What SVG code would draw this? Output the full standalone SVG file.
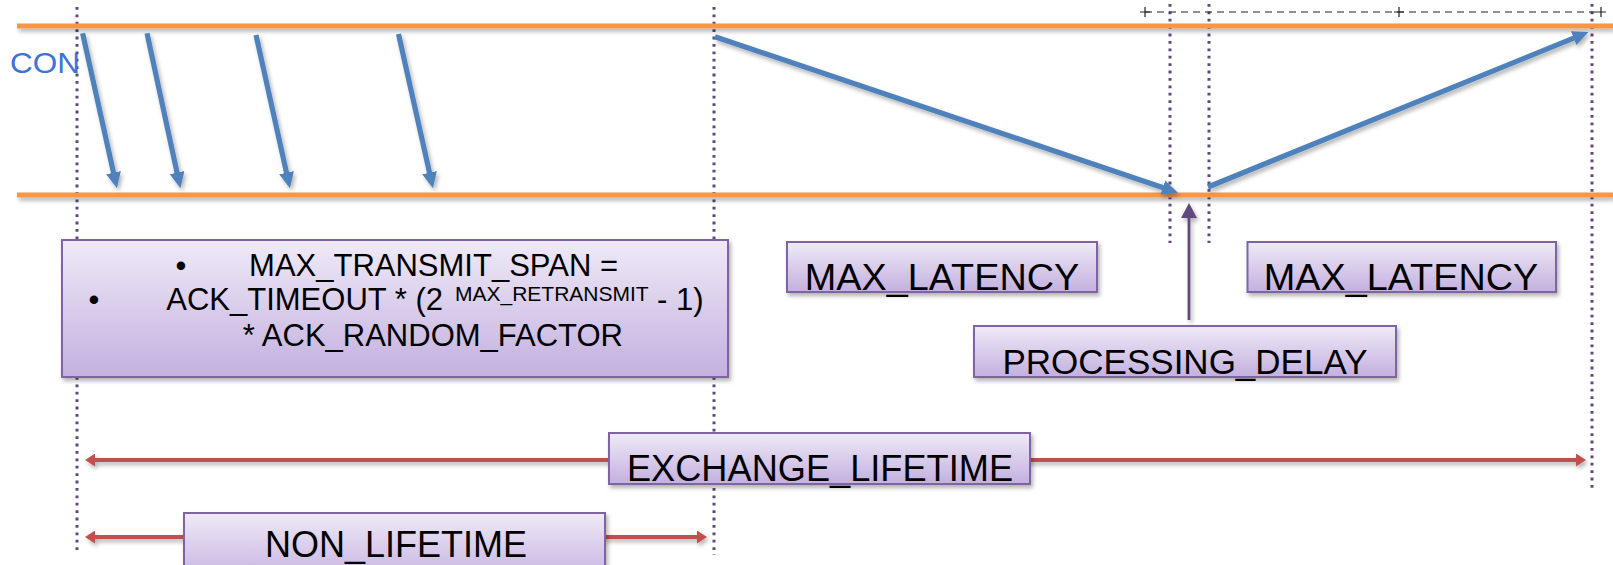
<svg xmlns="http://www.w3.org/2000/svg" width="1613" height="565" viewBox="0 0 1613 565">
<style>
.timeline{stroke:#F79646;stroke-width:5;fill:none}
.guide{stroke:#5F497A;stroke-width:3;stroke-dasharray:2.8 4.6;fill:none}
.msg{stroke:#4F81BD;stroke-width:5.2;fill:none;marker-end:url(#blueHead)}
.span{stroke:#C0504D;stroke-width:4;fill:none;marker-start:url(#redHead);marker-end:url(#redHead)}
.box{fill:url(#boxFill);stroke:#8064A2;stroke-width:2}
.lbl{font-family:"Liberation Sans",Arial,sans-serif;fill:#000}
.scale{stroke:#222;stroke-width:1.2;fill:none}
</style>
<defs>
<linearGradient id="boxFill" x1="0" y1="0" x2="0" y2="1">
<stop offset="0" stop-color="#EFEAF7"/>
<stop offset="1" stop-color="#C3B0DF"/>
</linearGradient>
<filter id="shadow" x="-10%" y="-30%" width="120%" height="180%">
<feDropShadow dx="2" dy="3" stdDeviation="2" flood-color="#000" flood-opacity="0.3"/>
</filter>
<marker id="blueHead" markerUnits="userSpaceOnUse" markerWidth="16" markerHeight="15" refX="6" refY="7.5" orient="auto">
<path d="M0,0 L16,7.5 L0,15 z" fill="#4F81BD"/>
</marker>
<marker id="redHead" markerUnits="userSpaceOnUse" markerWidth="10" markerHeight="13" refX="4" refY="6.5" orient="auto-start-reverse">
<path d="M0,0 L10,6.5 L0,13 z" fill="#C0504D"/>
</marker>
<marker id="purpleHead" markerUnits="userSpaceOnUse" markerWidth="15" markerHeight="16" refX="5" refY="8" orient="auto">
<path d="M0,0 L15,8 L0,16 z" fill="#604A7B"/>
</marker>
</defs>

<g id="guides">
<line class="guide" x1="77" y1="7" x2="77" y2="552"/>
<line class="guide" x1="714" y1="7" x2="714" y2="555"/>
<line class="guide" x1="1170" y1="4" x2="1170" y2="243"/>
<line class="guide" x1="1209" y1="4" x2="1209" y2="243"/>
<line class="guide" x1="1592" y1="4" x2="1592" y2="492"/>
</g>

<g id="scale-bar">
<line class="scale" x1="1145" y1="12" x2="1601" y2="12" stroke-dasharray="7 5"/>
<path class="scale" d="M1140,12 H1150 M1145,7 V17 M1394,12 H1404 M1399,7 V17 M1596,12 H1606 M1601,7 V17"/>
</g>

<g id="timelines" filter="url(#shadow)">
<line class="timeline" x1="17" y1="26" x2="1613" y2="26"/>
<line class="timeline" x1="17" y1="195" x2="1613" y2="195"/>
</g>

<text id="con-label" x="10" y="73" font-family="'Liberation Sans',Arial,sans-serif" font-size="30" textLength="70" lengthAdjust="spacingAndGlyphs" fill="#3B73D8">CON</text>

<g id="connectors">
<g filter="url(#shadow)">
<line class="msg" x1="82.6" y1="33.3" x2="114.8" y2="178.5"/>
<line class="msg" x1="147" y1="33.3" x2="178.3" y2="178.5"/>
<line class="msg" x1="256" y1="35" x2="287.8" y2="178.5"/>
<line class="msg" x1="398.5" y1="34" x2="430.8" y2="178.5"/>
<line class="msg" x1="715" y1="36.7" x2="1168.5" y2="189.5"/>
<line class="msg" x1="1208" y1="187" x2="1579.2" y2="35.8"/>
<line x1="1189" y1="320" x2="1189" y2="213" stroke="#604A7B" stroke-width="2.8" marker-end="url(#purpleHead)"/>
<line class="span" x1="91" y1="460" x2="1580" y2="460"/>
<line class="span" x1="91" y1="537" x2="701" y2="537"/>
</g>
</g>

<g id="node-transmit-span">
<rect class="box" x="62" y="240" width="666" height="137" filter="url(#shadow)"/>
<text class="lbl" x="181" y="276" font-size="31" text-anchor="middle">•</text>
<text class="lbl" x="618" y="276" font-size="31" text-anchor="end">MAX_TRANSMIT_SPAN =</text>
<text class="lbl" x="94" y="310" font-size="31" text-anchor="middle">•</text>
<text class="lbl" x="443" y="310" font-size="31" text-anchor="end">ACK_TIMEOUT * (2</text>
<text class="lbl" x="455" y="301" font-size="21">MAX_RETRANSMIT</text>
<text class="lbl" x="657" y="310" font-size="31">- 1)</text>
<text class="lbl" x="623" y="346" font-size="31" text-anchor="end">* ACK_RANDOM_FACTOR</text>
</g>

<g id="node-max-latency-1">
<rect class="box" x="787" y="242" width="310" height="50" filter="url(#shadow)"/>
<text class="lbl" x="942" y="290" font-size="37.8" text-anchor="middle">MAX_LATENCY</text>
</g>

<g id="node-max-latency-2">
<rect class="box" x="1247.5" y="242" width="308.5" height="50" filter="url(#shadow)"/>
<text class="lbl" x="1401" y="290" font-size="37.8" text-anchor="middle">MAX_LATENCY</text>
</g>

<g id="node-processing-delay">
<rect class="box" x="974" y="326" width="422" height="51" filter="url(#shadow)"/>
<text class="lbl" x="1185" y="374" font-size="35" text-anchor="middle">PROCESSING_DELAY</text>
</g>

<g id="node-exchange-lifetime">
<rect class="box" x="609" y="433" width="421" height="51" filter="url(#shadow)"/>
<text class="lbl" x="820" y="481" font-size="36.2" text-anchor="middle">EXCHANGE_LIFETIME</text>
</g>

<g id="node-non-lifetime">
<rect class="box" x="184" y="513" width="421" height="70" filter="url(#shadow)"/>
<text class="lbl" x="396" y="557" font-size="36" text-anchor="middle">NON_LIFETIME</text>
</g>
</svg>
